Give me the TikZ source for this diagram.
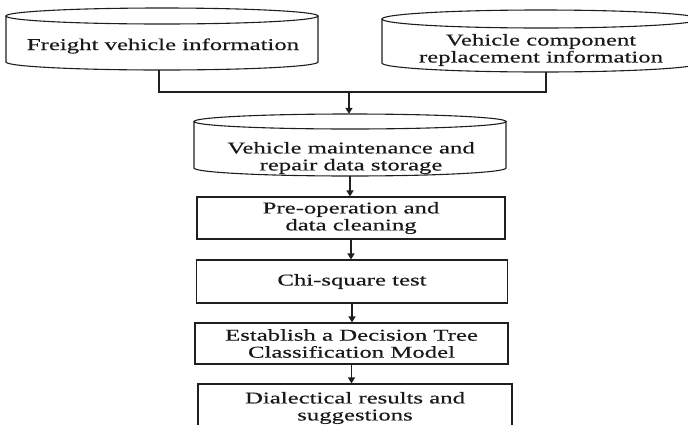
\documentclass[tikz,border=0pt]{standalone}
\usepackage{fontspec}
\setmainfont{Liberation Serif}[FakeStretch=1.5, FakeBold=0.4]
\usetikzlibrary{arrows.meta}
\begin{document}
\begin{tikzpicture}[x=1pt,y=-1pt,
  lbl/.style={align=center, font=\fontsize{16.5}{17}\selectfont, inner sep=0pt, text=black!90},
  holder/.style={rectangle, draw=none, inner sep=0pt},
  outl/.style={draw=black!88, line width=1.1pt},
  conn/.style={draw=black!88, line width=1.3pt},
  arr/.style={conn, -{Triangle[length=6pt,width=7pt]}},
  stepbox/.style={lbl, rectangle, draw=black!88, line width=1.1pt}]
\useasboundingbox (0,0) rectangle (688,424);
\clip (0,0) rectangle (688,424);

% cylinder 1
\draw[outl] (162,16) ellipse [x radius=156pt, y radius=8pt];
\draw[outl] (6,16) -- (6,62) arc[start angle=180, end angle=360, x radius=156pt, y radius=8pt] -- (318,16);
\node[holder, minimum width=312pt, minimum height=62pt] (c1) at (162,39) {};
\node[lbl] (c1t) at (163,46) {Freight vehicle information};

% cylinder 2
\draw[outl] (541,19) ellipse [x radius=159pt, y radius=9pt];
\draw[outl] (382,19) -- (382,63) arc[start angle=180, end angle=360, x radius=159pt, y radius=9pt] -- (700,19);
\node[holder, minimum width=318pt, minimum height=62pt] (c2) at (541,41) {};
\node[lbl] (c2t) at (541,50) {Vehicle component\\replacement information};

% cylinder 3
\draw[outl] (350,121.5) ellipse [x radius=156pt, y radius=7.5pt];
\draw[outl] (194,121.5) -- (194,168) arc[start angle=180, end angle=360, x radius=156pt, y radius=8pt] -- (506,121.5);
\node[holder, minimum width=312pt, minimum height=62pt] (c3) at (350,145) {};
\node[lbl] (c3t) at (351,158) {Vehicle maintenance and\\repair data storage};

% process boxes
\node[stepbox, minimum width=308pt, minimum height=42pt] (pre) at (351,218) {Pre-operation and\\data cleaning};
\node[stepbox, minimum width=311pt, minimum height=43pt] (chi) at (352,281.5) {Chi-square test};
\node[stepbox, minimum width=313pt, minimum height=41pt] (est) at (351.5,343.5) {Establish a Decision Tree\\Classification Model};
\node[stepbox, minimum width=314pt, minimum height=48pt] (dia) at (355,408) {Dialectical results and\\suggestions};

% connectors
\coordinate (jn) at (349,92);
\draw[conn] ([xshift=-3pt]c1.south) |- (jn);
\draw[conn] ([xshift=5pt]c2.south) |- (jn);
\draw[arr] (jn) -- (jn |- c3.north);
\draw[arr] (c3.south) -- (c3.south |- pre.north);
\draw[arr] (pre.south) -- (pre.south |- chi.north);
\draw[arr] (chi.south) -- (chi.south |- est.north);
\draw[arr] (est.south) -- (est.south |- dia.north);
\end{tikzpicture}
\end{document}
